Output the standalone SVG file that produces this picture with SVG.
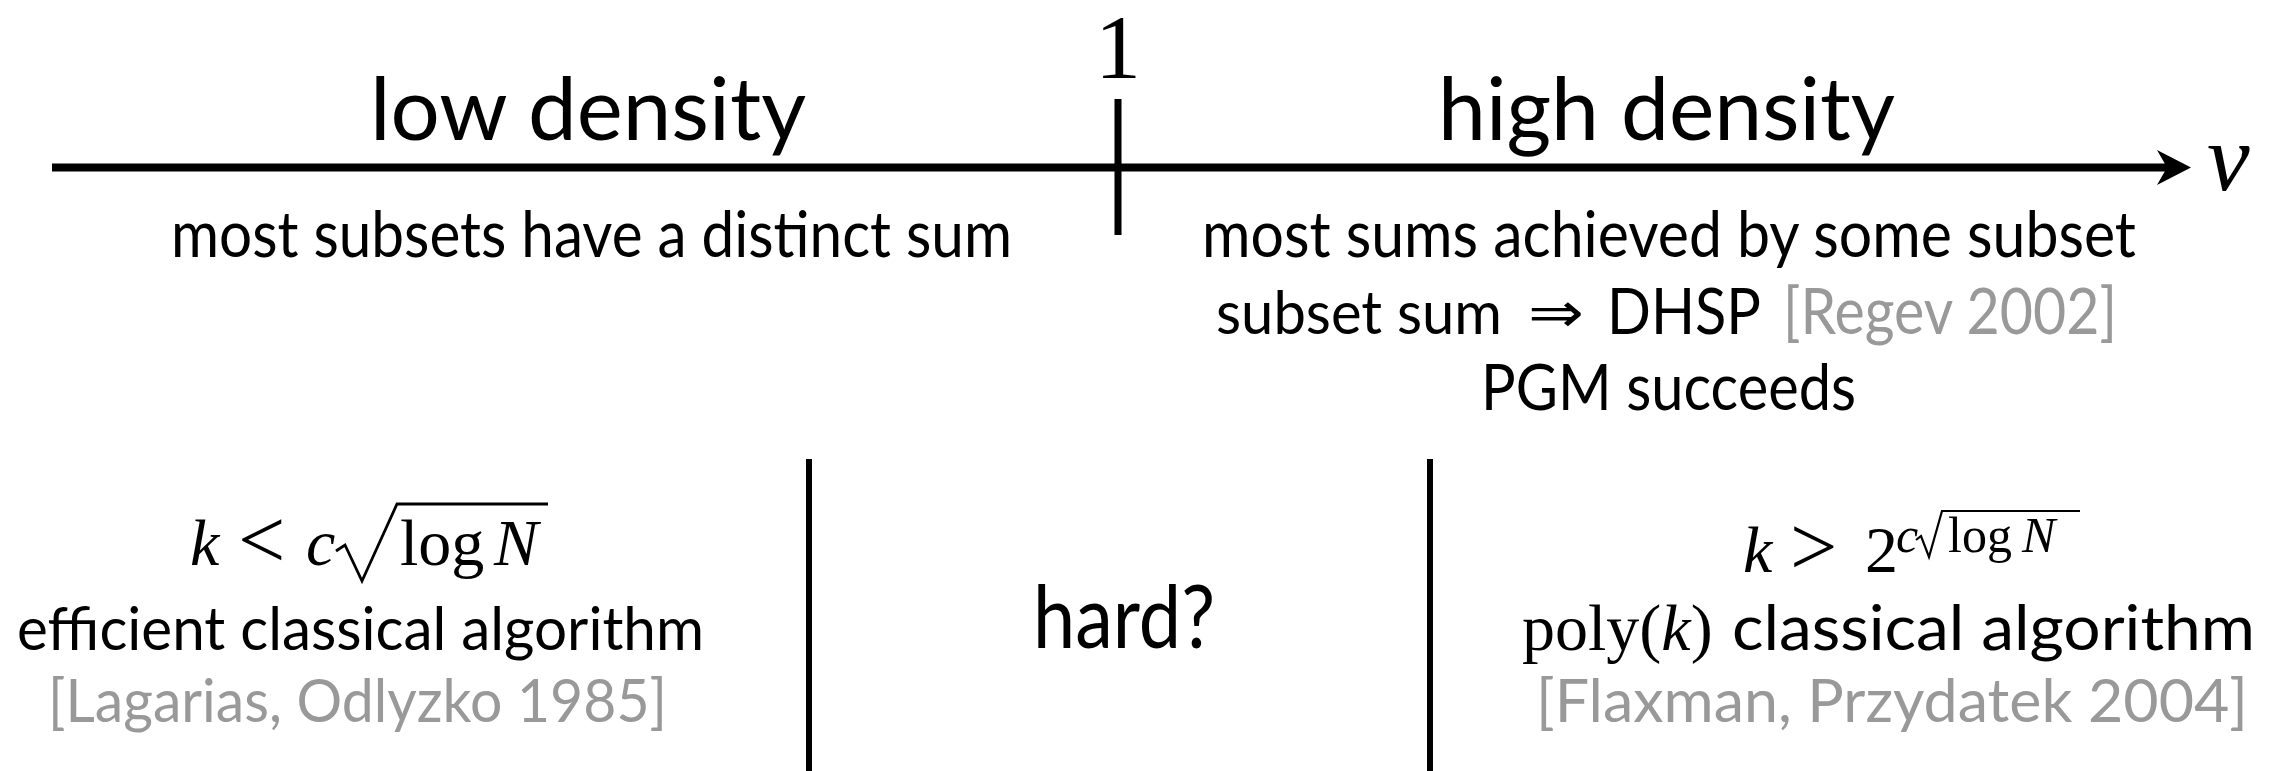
<svg xmlns="http://www.w3.org/2000/svg" width="2277" height="771" viewBox="0 0 2277 771">
<style>
.s{font-family:Lato,"Liberation Sans",sans-serif;fill:#000}
.big{font-size:88px}
.mid{font-size:64px}
.sm{font-size:60px}
.g{fill:#999}
.m{font-family:"Liberation Serif",serif;fill:#000}
.i{font-style:italic}
.ln{stroke:#000;fill:none}
</style>
<defs>
<marker id="ah" viewBox="0 0 34 35" refX="10" refY="17.5" markerWidth="34" markerHeight="35" markerUnits="userSpaceOnUse" orient="auto">
<path d="M0,0 L34,17.5 L0,35 L10,17.5 Z" fill="#000"/>
</marker>
</defs>
<rect width="2277" height="771" fill="#fff"/>
<g id="connectors">
<path class="ln" d="M52,167.5 H2167" stroke-width="8" marker-end="url(#ah)"/>
<path class="ln" d="M1118,99 V235" stroke-width="7"/>
<path class="ln" d="M809,459 V771" stroke-width="6"/>
<path class="ln" d="M1430,459 V771" stroke-width="6"/>
</g>
<g id="axis-labels">
<text class="m" x="1118" y="78" font-size="92" text-anchor="middle">1</text>
<text class="m i" x="2207" y="190" font-size="96">ν</text>
</g>
<g id="low-density">
<text class="s big" x="370" y="140" textLength="436" lengthAdjust="spacingAndGlyphs">low density</text>
<text class="s mid" x="171" y="257" textLength="841" lengthAdjust="spacingAndGlyphs">most subsets have a distinct sum</text>
</g>
<g id="high-density">
<text class="s big" x="1438" y="140" textLength="457" lengthAdjust="spacingAndGlyphs">high density</text>
<text class="s mid" x="1202" y="257" textLength="934" lengthAdjust="spacingAndGlyphs">most sums achieved by some subset</text>
<text class="s" x="1216" y="334" font-size="60" textLength="286" lengthAdjust="spacingAndGlyphs">subset sum</text>
<text x="1528" y="332" font-family="DejaVu Sans" font-size="56" textLength="56" lengthAdjust="spacingAndGlyphs">⇒</text>
<text class="s mid" x="1607" y="334" textLength="154" lengthAdjust="spacingAndGlyphs">DHSP</text>
<text class="s mid g" x="1783" y="334" textLength="334" lengthAdjust="spacingAndGlyphs">[Regev 2002]</text>
<text class="s mid" x="1481" y="410" textLength="375" lengthAdjust="spacingAndGlyphs">PGM succeeds</text>
</g>
<g id="low-regime">
<text class="m i" x="190" y="565" font-size="66">k</text>
<text class="m" x="238" y="568" font-size="84">&lt;</text>
<text class="m i" x="306" y="565" font-size="66">c</text>
<path class="ln" d="M336,551 L345,545 L362,581 L397,504 H548" stroke-width="2.8"/>
<text class="m" x="400" y="565" font-size="66">log</text>
<text class="m i" x="494" y="565" font-size="66">N</text>
<text class="s sm" x="17" y="650" textLength="687" lengthAdjust="spacingAndGlyphs">efficient classical algorithm</text>
<text class="s sm g" x="48" y="722" textLength="619" lengthAdjust="spacingAndGlyphs">[Lagarias, Odlyzko 1985]</text>
</g>
<g id="middle-regime">
<text class="s big" x="1033" y="648" textLength="182" lengthAdjust="spacingAndGlyphs">hard?</text>
</g>
<g id="high-regime">
<text class="m i" x="1743" y="572" font-size="66">k</text>
<text class="m" x="1790" y="575" font-size="84">&gt;</text>
<text class="m" x="1865" y="572" font-size="66">2</text>
<text class="m i" x="1896" y="552" font-size="50">c</text>
<path class="ln" d="M1916,540 L1921,536 L1929,557 L1942,511 H2080" stroke-width="2.2"/>
<text class="m" x="1948" y="552" font-size="50">log</text>
<text class="m i" x="2022" y="552" font-size="50">N</text>
<text class="m" x="1522" y="650" font-size="66">poly(<tspan class="i">k</tspan>)</text>
<text class="s" x="1732" y="650" font-size="62" textLength="523" lengthAdjust="spacingAndGlyphs">classical algorithm</text>
<text class="s sm g" x="1536" y="722" textLength="712" lengthAdjust="spacingAndGlyphs">[Flaxman, Przydatek 2004]</text>
</g>
</svg>
